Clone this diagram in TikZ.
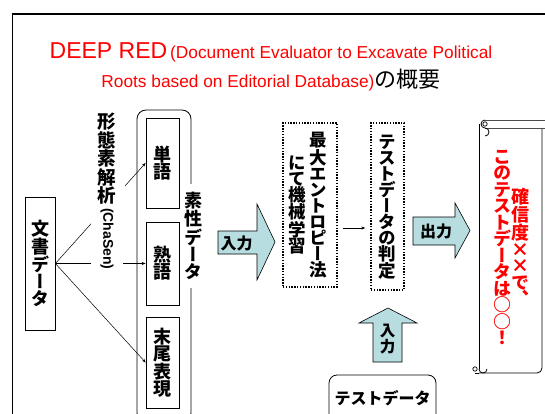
\documentclass[tikz,border=0pt]{standalone}
\usepackage{fontspec}
\usepackage{graphicx}
\setmainfont{Liberation Sans}
\newfontfamily\jpv[RawFeature={+vert}]{Noto Sans CJK JP}
\newfontfamily\jph{Noto Sans CJK JP}
\usetikzlibrary{arrows.meta}
\definecolor{blkfill}{RGB}{183,221,224}
\begin{document}
\begin{tikzpicture}[x=1pt,y=-1pt,
  box/.style={draw, line width=0.8pt, inner sep=0pt},
  vlab/.style={font=\jpv\bfseries\fontsize{18}{17}\selectfont, align=center, inner sep=0pt},
  vlabs/.style={font=\jpv\bfseries\fontsize{17.5}{16}\selectfont, align=center, inner sep=0pt},
  hlab/.style={font=\jph\bfseries\fontsize{16}{16}\selectfont, inner sep=0pt},
  thin/.style={line width=0.5pt, -{Stealth[length=4pt,width=3pt]}},
  blk/.style={draw, line width=0.6pt, fill=blkfill},
  dotbox/.style={draw, line width=1.4pt, dash pattern=on 1.4pt off 1.4pt, inner sep=0pt},
  redv/.style={font=\jpv\bfseries\fontsize{18}{16.5}\selectfont, text=red, align=center, inner sep=0pt}]
\useasboundingbox (0,0) rectangle (545,414);
\clip (0,0) rectangle (545,414);
\fill[white] (0,0) rectangle (545,414);
% frame
\draw[line width=1.6pt] (12.5,430) -- (12.5,14) -- (560,14);
% title
\node[anchor=base, inner sep=0pt, text=red] (t1) at (271,59)
  {{\fontsize{23}{23}\selectfont DEEP RED}{\fontsize{17.3}{17.3}\selectfont\,(Document Evaluator to Excavate Political}};
\node[anchor=base, inner sep=0pt] (t2) at (271,88)
  {{\fontsize{17.3}{17.3}\selectfont\color{red}Roots based on Editorial Database)}{\jph\fontsize{22}{22}\selectfont の概要}};
% document data
\node[box, minimum width=30pt, minimum height=133pt, vlab] (doc) at (40,263.5) {文\\書\\デ\\ー\\タ};
% bracket
\draw[line width=0.8pt, rounded corners=9pt] (137,110) rectangle (191,422);
\node[box, minimum width=33pt, minimum height=90pt, vlab] (w1) at (162.5,163) {単\\語};
\node[box, minimum width=33pt, minimum height=83pt, vlab] (w2) at (162.5,263.5) {熟\\語};
\node[box, minimum width=33pt, minimum height=91pt, vlab] (w3) at (162.5,362.5) {末\\尾\\表\\現};
\draw[thin] (doc.east) -- (w1.west);
\draw[thin] (doc.east) -- (w2.west);
\draw[thin] (doc.east) -- (w3.west);
\node[fill=white, anchor=north, inner xsep=9pt, inner ysep=2pt, align=center,
      font=\jpv\bfseries\fontsize{18.5}{18.5}\selectfont] (morph) at (107,111)
  {形\\態\\素\\解\\析};
\node[fill=white, anchor=north, inner xsep=9pt, inner ysep=2pt] (chasen) at (107,206)
  {\rotatebox{-90}{\bfseries\fontsize{14}{14}\selectfont(ChaSen)}};
\node[vlab, fill=white, inner xsep=2pt, inner ysep=9pt] (feat) at (193,236) {素\\性\\デ\\ー\\タ};
% input arrow
\draw[blk] (218,231) -- (257,231) -- (257,204) -- (275,242) -- (257,280) -- (257,254) -- (218,254) -- cycle;
\node[hlab] (in1) at (236.5,243) {入力};
% max entropy
\node[dotbox, minimum width=54pt, minimum height=164pt] (ml) at (310,205) {};
\node[vlabs] (ml1) at (318,205) {最\\大\\エ\\ン\\ト\\ロ\\ピ\\ー\\法};
\node[vlabs] (ml2) at (297,205) {に\\て\\機\\械\\学\\習};
% judge
\node[dotbox, minimum width=33pt, minimum height=167pt] (jd) at (387.5,206.5) {};
\node[vlabs] (jd1) at (387.5,207) {テ\\ス\\ト\\デ\\ー\\タ\\の\\判\\定};
\draw[thin, shorten <=5pt, shorten >=5pt] ([yshift=-23pt]ml.east) -- ([yshift=-21.5pt]jd.west);
% output arrow
\draw[blk] (413,217) -- (455,217) -- (455,203) -- (470,230.5) -- (455,258) -- (455,245) -- (413,245) -- cycle;
\node[hlab] (out) at (436,231) {出力};
% scroll
\draw[line width=0.8pt] (479,124) -- (479,369);
\draw[line width=0.8pt, rounded corners=5pt] (542,128) -- (542,373) -- (479,373);
\draw[line width=0.8pt, gray!60!black] (485,120) -- (560,120);
\draw[line width=0.8pt, gray!60!black] (485,128) -- (560,128);
\draw[line width=0.8pt] (485,128) arc (90:270:-4) ;
\draw[line width=0.8pt] (485,120) arc (270:90:4);
\draw[line width=0.7pt] (485,124) circle (2.2);
\draw[line width=0.8pt] (479,369) arc (0:-180:-4);
\draw[line width=0.7pt] (475,369) circle (2.2);
\draw[line width=0.8pt] (475,373) -- (479,373);
\node[redv] (sc1) at (520,247) {確\\信\\度\\×\\×\\で\\、};
\node[redv] (sc2) at (502,247.5) {こ\\の\\テ\\ス\\ト\\デ\\ー\\タ\\は\\○\\○\\！};
% up input arrow
\draw[blk] (373,362) -- (373,323) -- (359,323) -- (388,308) -- (417,323) -- (402,323) -- (402,362) -- cycle;
\node[vlabs, font=\jpv\bfseries\fontsize{15.5}{14.5}\selectfont] (in2) at (387.5,339) {入\\力};
% test data
\draw[line width=0.8pt, rounded corners=8pt] (329,430) -- (329,375) -- (436,375) -- (436,430);
\node[font=\jph\bfseries\fontsize{16}{16}\selectfont, inner sep=0pt] (td) at (382.5,398) {テストデータ};
\end{tikzpicture}
\end{document}
